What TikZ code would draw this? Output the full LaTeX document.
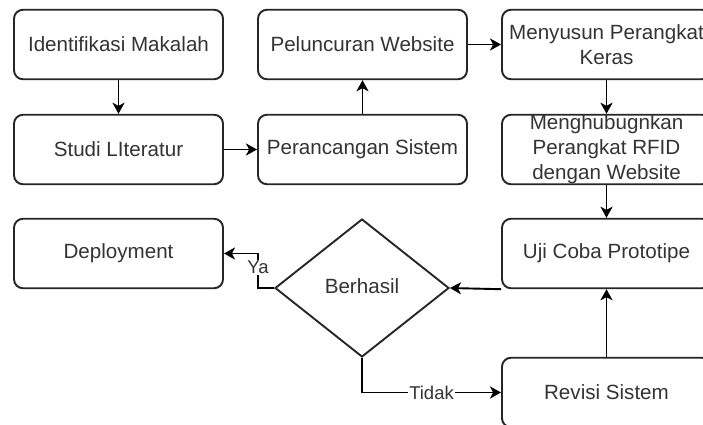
\documentclass[tikz,border=0pt]{standalone}
\usepackage{fontspec}
\setmainfont{Liberation Sans}
\usetikzlibrary{shapes.geometric,arrows.meta}
\begin{document}
\begin{tikzpicture}[x=1pt,y=-1pt,
  box/.style={draw=black!85, line width=1.9pt, rounded corners=9pt, minimum width=209pt, minimum height=69.5pt, inner sep=0pt, align=center, font=\fontsize{20.6}{25}\selectfont, text=black!80},
  dec/.style={draw=black!85, line width=1.9pt, shape=diamond, minimum width=174pt, minimum height=138pt, inner sep=0pt, font=\fontsize{20.6}{25}\selectfont, text=black!80},
  conn/.style={draw=black, line width=1.9pt, -{Stealth[length=11pt,width=12pt,inset=3pt]}},
  lbl/.style={fill=white, inner sep=1pt, font=\fontsize{18.5}{22}\selectfont, text=black!80}]
\useasboundingbox (0,0) rectangle (703,425);
\node[box] (iden) at (118.5,44.5) {Identifikasi Makalah};
\node[box] (studi) at (118.5,149.5) {Studi LIteratur};
\node[box] (pelun) at (362.5,44.5) {Peluncuran Website};
\node[box] (peran) at (362.5,149.5) {Perancangan Sistem};
\node[box] (menyu) at (606.5,44.5) {Menyusun Perangkat\\Keras};
\node[box] (mengh) at (606.5,149.5) {Menghubugnkan\\Perangkat RFID\\dengan Website};
\node[box] (uji) at (606.5,253.5) {Uji Coba Prototipe};
\node[box] (deploy) at (118.5,253.5) {Deployment};
\node[dec] (dia) at (362,288) {\raisebox{4pt}{Berhasil}};
\node[box] (rev) at (606.5,392.5) {Revisi Sistem};
\coordinate (ya) at (258,253.5);
\draw[conn] (iden.south) -- (studi.north);
\draw[conn] (studi.east) -- (peran.west);
\draw[conn] (peran.north) -- (pelun.south);
\draw[conn] (pelun.east) -- (menyu.west);
\draw[conn] (menyu.south) -- (mengh.north);
\draw[conn] (mengh.south) -- (uji.north);
\draw[conn] (uji.south west) -- (dia.east);
\draw[conn] (dia.west) -| node[lbl,pos=0.8]{Ya} (ya) -- (deploy.east);
\draw[conn] (dia.south) |- node[lbl,pos=0.75]{Tidak} (rev.west);
\draw[conn] (rev.north) -- (uji.south);
\end{tikzpicture}
\end{document}
